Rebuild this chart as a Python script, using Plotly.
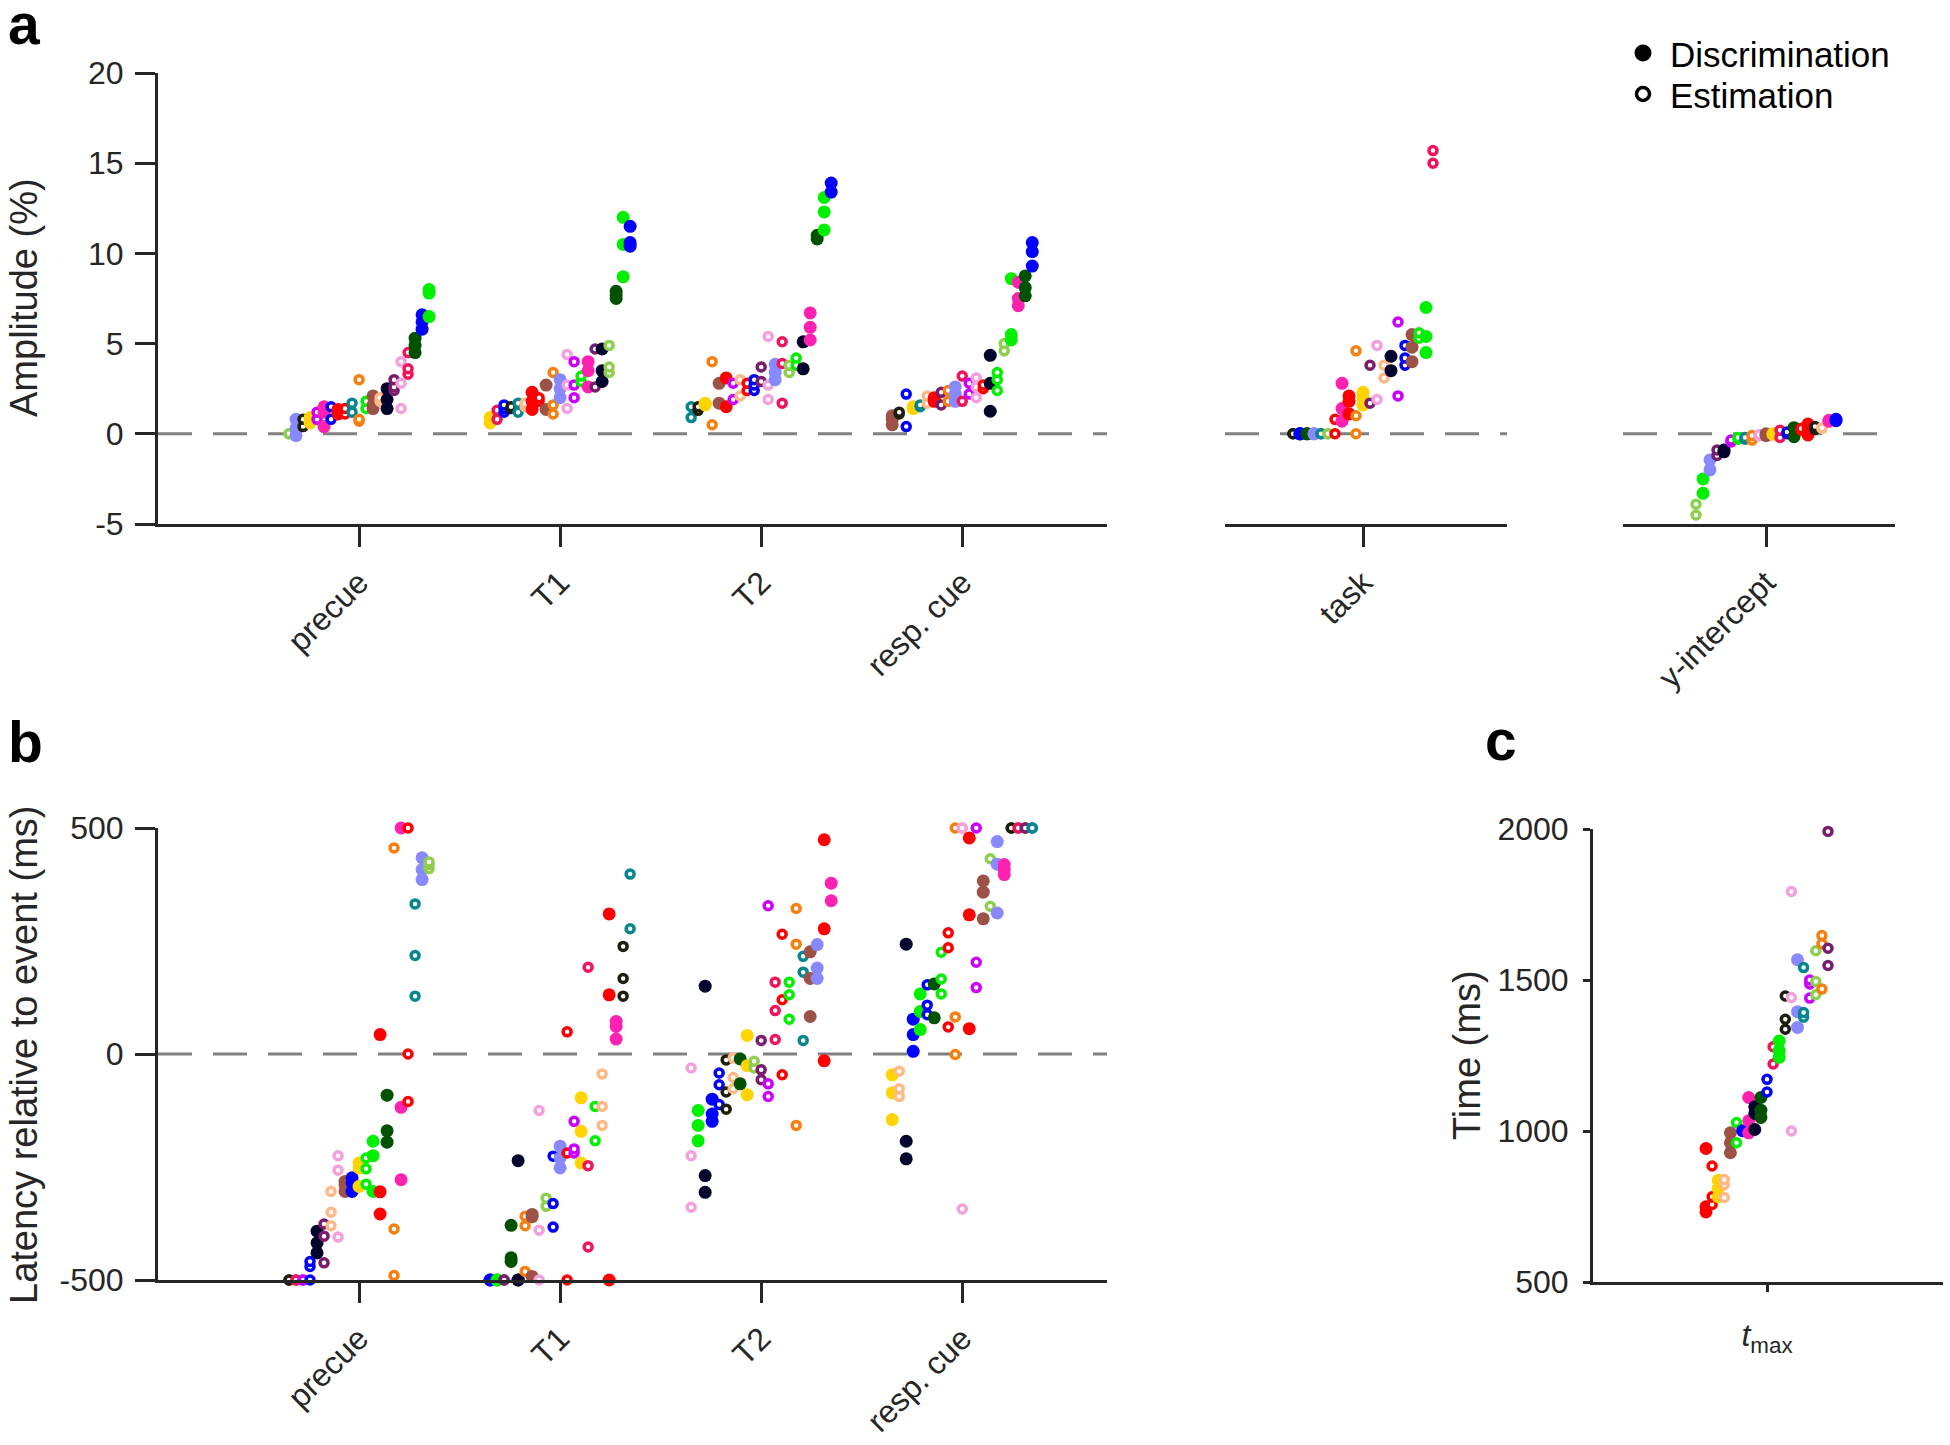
import plotly.graph_objects as go

W, H = 1950, 1445
FONT = "Liberation Sans, Arial, Helvetica, sans-serif"
AX = "#262626"

# ---------------- subjects (suffix D = Discrimination / filled, E = Estimation / open)
SUBJECTS = ["navyD", "oliveE", "blueD", "blueE", "greenD", "greenE", "dkgreenD", "redD", "redE",
            "crimsonE", "hotpinkD", "ltpinkE", "violetE", "purpleE", "periD", "tealE",
            "ltgreenE", "orangeE", "peachE", "goldD", "brownD"]
COLORS = {
    "navyD": "#03032e", "oliveE": "#1e1e0c", "blueD": "#0000ff", "blueE": "#0000ff",
    "greenD": "#00f000", "greenE": "#00f000", "dkgreenD": "#005200", "redD": "#ff0000",
    "redE": "#ff0000", "crimsonE": "#f0155a", "hotpinkD": "#ff22b0", "ltpinkE": "#f4a0dc",
    "violetE": "#cc00ff", "purpleE": "#771f6e", "periD": "#8888ff", "tealE": "#08868f",
    "ltgreenE": "#8fcf50", "orangeE": "#f58010", "peachE": "#ffb987", "goldD": "#ffd400",
    "brownD": "#9c5246",
}

# ---------------- tick labels
A_CATS = ["precue", "T1", "T2", "resp. cue"]
TASK_LABEL = ["task"]
YINT_LABEL = ["y-intercept"]
C_LABEL = ["<i>t</i><sub>max</sub>"]
A_YTICKS = [-5, 0, 5, 10, 15, 20]
B_YTICKS = [-500, 0, 500]
C_YTICKS = [500, 1000, 1500, 2000]

# ---------------- panel a: amplitude (%)
AMP_PRECUE = {
    "ltgreenE": [0.0, 0.0], "periD": [-0.1, 0.3, 0.8], "oliveE": [0.4, 0.8], "goldD": [0.6, 0.9],
    "violetE": [0.8, 1.2], "hotpinkD": [0.4, 1.2, 1.5], "blueE": [0.8, 1.5], "redD": [1.1, 1.3, 1.35],
    "redE": [1.1, 1.4], "tealE": [1.2, 1.7], "orangeE": [0.7, 0.8, 3.0], "greenE": [1.4, 1.8],
    "brownD": [1.4, 1.6, 2.1], "peachE": [1.8, 2.0], "navyD": [1.4, 1.9, 2.5],
    "purpleE": [2.4, 2.6, 3.0], "ltpinkE": [1.4, 2.8, 4.0], "crimsonE": [3.3, 3.6, 4.5],
    "dkgreenD": [4.5, 4.9, 5.3], "blueD": [5.8, 6.2, 6.6], "greenD": [6.5, 7.8, 8.0],
}
AMP_T1 = {
    "goldD": [0.6, 0.9], "crimsonE": [0.8, 1.3], "tealE": [1.2, 1.7], "oliveE": [1.4, 1.5],
    "blueE": [1.2, 1.4, 1.6], "peachE": [1.5, 1.7], "redD": [1.35, 1.8, 2.3], "redE": [1.8, 2.0],
    "brownD": [1.35, 2.7], "orangeE": [1.1, 1.6, 3.4], "periD": [2.0, 2.5, 3.0],
    "ltpinkE": [1.4, 2.7, 4.4], "violetE": [2.0, 2.7, 4.0], "greenE": [2.9, 3.2],
    "hotpinkD": [2.6, 3.5, 4.0], "purpleE": [2.6, 4.7], "navyD": [2.9, 3.5, 4.7],
    "ltgreenE": [3.4, 3.7, 4.9], "dkgreenD": [7.5, 7.7, 7.9], "greenD": [8.7, 10.5, 12.0],
    "blueD": [10.4, 10.6, 11.5],
}
AMP_T2 = {
    "tealE": [0.9, 1.5], "oliveE": [1.3, 1.5], "goldD": [1.6, 1.7], "brownD": [1.7, 2.8],
    "orangeE": [0.5, 4.0], "redD": [1.5, 3.1], "violetE": [1.9, 2.8], "peachE": [2.1, 3.0],
    "redE": [2.4, 2.8], "blueE": [2.4, 2.7, 3.0], "purpleE": [2.9, 3.7], "ltgreenE": [3.4, 3.8],
    "ltpinkE": [1.9, 2.7, 5.4], "periD": [3.0, 3.4, 3.85], "crimsonE": [1.7, 3.9, 5.1],
    "greenE": [3.8, 4.2], "navyD": [3.6, 5.1], "hotpinkD": [5.2, 5.9, 6.7],
    "dkgreenD": [10.8, 11.0], "greenD": [11.3, 12.3, 13.1], "blueD": [13.4, 13.9],
}
AMP_RESP = {
    "brownD": [0.5, 0.8, 1.0], "oliveE": [1.1, 1.2], "goldD": [1.4, 1.5], "blueE": [0.4, 2.2],
    "tealE": [1.5, 1.6], "peachE": [1.7, 2.1], "redD": [1.8, 1.9, 2.0], "purpleE": [1.6, 2.3],
    "orangeE": [1.8, 2.4], "periD": [1.8, 2.2, 2.6], "crimsonE": [1.8, 3.2], "violetE": [2.2, 2.8],
    "redE": [2.5, 2.7], "ltpinkE": [2.0, 2.6, 3.1], "navyD": [1.25, 2.8, 4.35],
    "greenE": [2.4, 3.0, 3.4], "ltgreenE": [4.6, 5.0], "greenD": [5.2, 5.5, 8.6],
    "hotpinkD": [7.1, 7.5, 8.4], "dkgreenD": [7.65, 8.1, 8.75], "blueD": [9.3, 10.1, 10.6],
}
AMP_TASK = {
    "blueD": [0, 0, 0], "dkgreenD": [0, 0], "oliveE": [0, 0], "tealE": [0, 0], "ltgreenE": [0, 0],
    "periD": [0, 0], "redE": [0, 0.8], "redD": [1.1, 1.8, 2.1], "hotpinkD": [0.7, 1.4, 2.8],
    "orangeE": [0, 1.0, 4.6], "goldD": [1.6, 2.0, 2.3], "ltpinkE": [1.9, 4.9],
    "purpleE": [1.7, 3.8], "peachE": [3.1, 3.8], "navyD": [3.5, 4.3], "violetE": [2.1, 6.2],
    "blueE": [3.8, 4.2, 4.9], "brownD": [4.0, 4.8, 5.5], "greenE": [5.3, 5.6],
    "greenD": [4.5, 5.4, 7.0], "crimsonE": [15.0, 15.7],
}
AMP_YINT = {
    "ltgreenE": [-4.5, -3.9], "greenD": [-3.3, -2.5], "periD": [-2.0, -1.45], "navyD": [-1.0, -0.9],
    "purpleE": [-1.2, -0.9], "violetE": [-0.45, -0.35], "greenE": [-0.3, -0.2], "tealE": [-0.3, -0.2],
    "orangeE": [-0.35, -0.1], "ltpinkE": [-0.1, -0.05], "brownD": [-0.1, 0.0], "goldD": [0.0, -0.02],
    "crimsonE": [-0.2, 0.2], "blueE": [0.0, 0.1], "dkgreenD": [-0.16, 0.34],
    "redD": [-0.06, 0.3, 0.54], "redE": [0.2, 0.3], "peachE": [0.3, 0.34], "oliveE": [0.24, 0.4],
    "hotpinkD": [0.7, 0.75], "blueD": [0.73, 0.8],
}

# ---------------- panel b: latency relative to event (ms)
LAT_PRECUE = {
    "crimsonE": [-500, -500], "violetE": [-500, -500], "oliveE": [-500, -500],
    "blueE": [-500, -470, -459], "navyD": [-440, -418, -392], "purpleE": [-462, -403, -376],
    "peachE": [-380, -350, -304], "ltpinkE": [-405, -257, -225], "brownD": [-304, -282, -290],
    "blueD": [-304, -274, -285], "goldD": [-293, -252, -241], "greenE": [-288, -254, -230],
    "greenD": [-304, -225, -193], "redD": [-354, -305, 43], "dkgreenD": [-195, -170, -91],
    "orangeE": [-490, -387, 456], "hotpinkD": [-278, -118, 500], "redE": [-105, 0, 500],
    "tealE": [128, 218, 332], "periD": [386, 408, 434], "ltgreenE": [410, 419, 425],
}
LAT_T1 = {
    "blueD": [-500, -500], "greenD": [-500, -500], "purpleE": [-500, -500],
    "dkgreenD": [-459, -451, -379], "navyD": [-500, -500, -236], "orangeE": [-481, -380, -359],
    "brownD": [-492, -355, -360], "ltpinkE": [-500, -390, -125], "ltgreenE": [-337, -319],
    "blueE": [-383, -331, -226], "periD": [-252, -230, -204], "redE": [-500, -219, 49],
    "violetE": [-219, -210, -149], "goldD": [-241, -171, -97], "crimsonE": [-427, -247, 192],
    "greenE": [-192, -116], "peachE": [-158, -116, -44], "redD": [-500, 131, 310],
    "hotpinkD": [33, 61, 72], "oliveE": [128, 167, 238], "tealE": [277, 398],
}
LAT_T2 = {
    "ltpinkE": [-339, -225, -31], "navyD": [-306, -269, 150], "greenD": [-192, -158, -125],
    "blueD": [-149, -133, -100], "blueE": [-112, -68, -42], "oliveE": [-122, -84, -13],
    "dkgreenD": [-66, -11], "peachE": [-77, -52, -9], "ltgreenE": [-31, -16],
    "goldD": [-90, -26, 41], "purpleE": [-57, -35, 30], "violetE": [-94, -66, 328],
    "crimsonE": [32, 96, 159], "redE": [-46, 120, 265], "greenE": [77, 131, 159],
    "orangeE": [-158, 243, 322], "tealE": [30, 181, 216], "brownD": [83, 167, 226],
    "periD": [167, 190, 242], "redD": [-15, 277, 474], "hotpinkD": [339, 378],
}
LAT_RESP = {
    "goldD": [-145, -86, -46], "peachE": [-94, -77, -38], "navyD": [-232, -193, 243],
    "blueD": [6, 43, 77], "greenD": [54, 94, 133], "dkgreenD": [80, 155],
    "blueE": [87, 108, 153], "greenE": [133, 166, 225], "redE": [60, 235, 268],
    "orangeE": [-1, 82, 500], "ltpinkE": [-343, 500, 500], "redD": [56, 308, 478],
    "violetE": [147, 203, 500], "brownD": [299, 358, 383], "ltgreenE": [327, 432],
    "periD": [312, 420, 470], "hotpinkD": [397, 408, 419], "tealE": [500, 500],
    "purpleE": [500, 500], "oliveE": [500, 500], "crimsonE": [500, 500],
}

# ---------------- panel c: t_max (ms)
TIME_TMAX = {
    "redD": [732, 749, 942], "redE": [757, 782, 884], "goldD": [782, 810, 837],
    "peachE": [780, 823, 839], "brownD": [928, 961, 994], "greenE": [961, 1028],
    "blueD": [1001], "hotpinkD": [994, 1034, 1111], "navyD": [1005, 1058, 1080],
    "dkgreenD": [1045, 1069, 1111], "blueE": [1129, 1171], "crimsonE": [1222, 1279],
    "greenD": [1244, 1266, 1298], "oliveE": [1337, 1370, 1447], "ltpinkE": [1000, 1442, 1793],
    "periD": [1343, 1395, 1567], "tealE": [1377, 1392, 1541], "violetE": [1440, 1487, 1500],
    "ltgreenE": [1451, 1495, 1597], "orangeE": [1470, 1620, 1647], "purpleE": [1548, 1605, 1992],
}

UNIT = 201.0  # px per category unit


def group(vals, center, step, xa, ya):
    order = sorted(SUBJECTS, key=lambda s: sum(vals[s]) / len(vals[s]))
    n = len(order)
    xs, ys, fc, lc, sz, lw = [], [], [], [], [], []
    for r, s in enumerate(order):
        x = center + (r - (n - 1) / 2) * step
        filled = s.endswith("D")
        for v in vals[s]:
            xs.append(x)
            ys.append(v)
            fc.append(COLORS[s] if filled else "white")
            lc.append(COLORS[s])
            sz.append(13 if filled else 8)
            lw.append(0 if filled else 3.5)
    return go.Scatter(x=xs, y=ys, mode="markers", xaxis=xa, yaxis=ya, cliponaxis=False,
                      showlegend=False, hoverinfo="skip",
                      marker=dict(color=fc, size=sz, opacity=1, line=dict(color=lc, width=lw)))


fig = go.Figure()
STEP = 7.0 / UNIT
for i, d in enumerate([AMP_PRECUE, AMP_T1, AMP_T2, AMP_RESP]):
    fig.add_trace(group(d, i, STEP, "x", "y"))
fig.add_trace(group(AMP_TASK, 0, STEP, "x2", "y2"))
fig.add_trace(group(AMP_YINT, 0, STEP, "x3", "y3"))
for i, d in enumerate([LAT_PRECUE, LAT_T1, LAT_T2, LAT_RESP]):
    fig.add_trace(group(d, i, STEP, "x4", "y4"))
fig.add_trace(group(TIME_TMAX, 0, 6.1 / UNIT, "x5", "y5"))


def xd(a, b):
    return [a / W, b / W]


def yd(top, bottom):
    return [1 - bottom / H, 1 - top / H]


tickfont = dict(family=FONT, size=32, color=AX)
base = dict(showgrid=False, zeroline=False, showline=True, linecolor=AX, linewidth=3,
            ticks="outside", ticklen=20, tickwidth=3, tickcolor=AX, tickfont=tickfont,
            fixedrange=True, automargin=False)
hidden = dict(visible=False, fixedrange=True, automargin=False)

lay = dict(
    width=W, height=H, margin=dict(l=0, r=0, t=0, b=0, pad=0), autosize=False,
    paper_bgcolor="white", plot_bgcolor="white", showlegend=False,
    xaxis=dict(base, domain=xd(158, 1107), range=[-1.0, 3.72], anchor="y",
               tickvals=[0, 1, 2, 3], ticktext=A_CATS, tickangle=-45, ticklabelstandoff=4),
    yaxis=dict(base, domain=yd(73, 524), range=[-5, 20], anchor="x",
               tickvals=A_YTICKS, ticktext=[str(v) for v in A_YTICKS], ticklabelstandoff=5),
    xaxis2=dict(base, domain=xd(1225, 1507), range=[(1225 - 1363) / UNIT, (1507 - 1363) / UNIT],
                anchor="y2", tickvals=[0], ticktext=TASK_LABEL, tickangle=-45, ticklabelstandoff=4),
    yaxis2=dict(hidden, domain=yd(73, 524), range=[-5, 20], anchor="x2"),
    xaxis3=dict(base, domain=xd(1623, 1895), range=[(1623 - 1766) / UNIT, (1895 - 1766) / UNIT],
                anchor="y3", tickvals=[0], ticktext=YINT_LABEL, tickangle=-45, ticklabelstandoff=4),
    yaxis3=dict(hidden, domain=yd(73, 524), range=[-5, 20], anchor="x3"),
    xaxis4=dict(base, domain=xd(158, 1107), range=[-1.0, 3.72], anchor="y4",
                tickvals=[0, 1, 2, 3], ticktext=A_CATS, tickangle=-45, ticklabelstandoff=4),
    yaxis4=dict(base, domain=yd(828, 1280), range=[-500, 500], anchor="x4",
                tickvals=B_YTICKS, ticktext=[str(v) for v in B_YTICKS], ticklabelstandoff=5),
    xaxis5=dict(base, domain=xd(1593, 1943), range=[(1593 - 1767) / UNIT, (1943 - 1767) / UNIT],
                anchor="y5", tickvals=[0], ticktext=C_LABEL, tickangle=0, ticklen=7,
                ticklabelstandoff=16),
    yaxis5=dict(base, domain=yd(829, 1282), range=[500, 2000], anchor="x5", ticklen=7,
                tickvals=C_YTICKS, ticktext=[str(v) for v in C_YTICKS], ticklabelstandoff=8),
)
fig.update_layout(**lay)

# dashed zero lines
shapes = []
for ya, xa in [("y", "x"), ("y2", "x2"), ("y3", "x3"), ("y4", "x4")]:
    shapes.append(dict(type="line", xref=f"{xa} domain", x0=0, x1=1, yref=ya, y0=0, y1=0,
                       line=dict(color="#808080", width=3, dash="34px,21px"), layer="below"))

# legend markers
shapes.append(dict(type="circle", xref="paper", yref="paper", xsizemode="pixel", ysizemode="pixel",
                   xanchor=1643 / W, yanchor=1 - 53 / H, x0=-8.5, x1=8.5, y0=-8.5, y1=8.5,
                   fillcolor="black", line=dict(width=0)))
shapes.append(dict(type="circle", xref="paper", yref="paper", xsizemode="pixel", ysizemode="pixel",
                   xanchor=1643 / W, yanchor=1 - 94 / H, x0=-6.5, x1=6.5, y0=-6.5, y1=6.5,
                   fillcolor="white", line=dict(color="black", width=3.5)))
fig.update_layout(shapes=shapes)

ann = []
def text(x, y, s, size, xanchor="center", yanchor="middle", angle=0, bold=False, color=AX):
    ann.append(dict(x=x / W, y=1 - y / H, xref="paper", yref="paper", text=f"<b>{s}</b>" if bold else s,
                    showarrow=False, xanchor=xanchor, yanchor=yanchor, textangle=angle,
                    font=dict(family=FONT, size=size, color=color)))

text(1668, 54, "Discrimination", 35, xanchor="left", color="black")
text(1668, 95, "Estimation", 35, xanchor="left", color="black")
text(24, 298, "Amplitude (%)", 38, angle=-90)
text(24, 1055, "Latency relative to event (ms)", 38, angle=-90)
text(1467, 1055, "Time (ms)", 38, angle=-90)
text(6, 24, "a", 57, xanchor="left", bold=True, color="black")
text(6, 742, "b", 57, xanchor="left", bold=True, color="black")
text(1483, 740, "c", 57, xanchor="left", bold=True, color="black")
fig.update_layout(annotations=ann)

fig.write_html("out.html", config={"displayModeBar": False, "staticPlot": True},
               post_script="document.body.style.margin='0';")
